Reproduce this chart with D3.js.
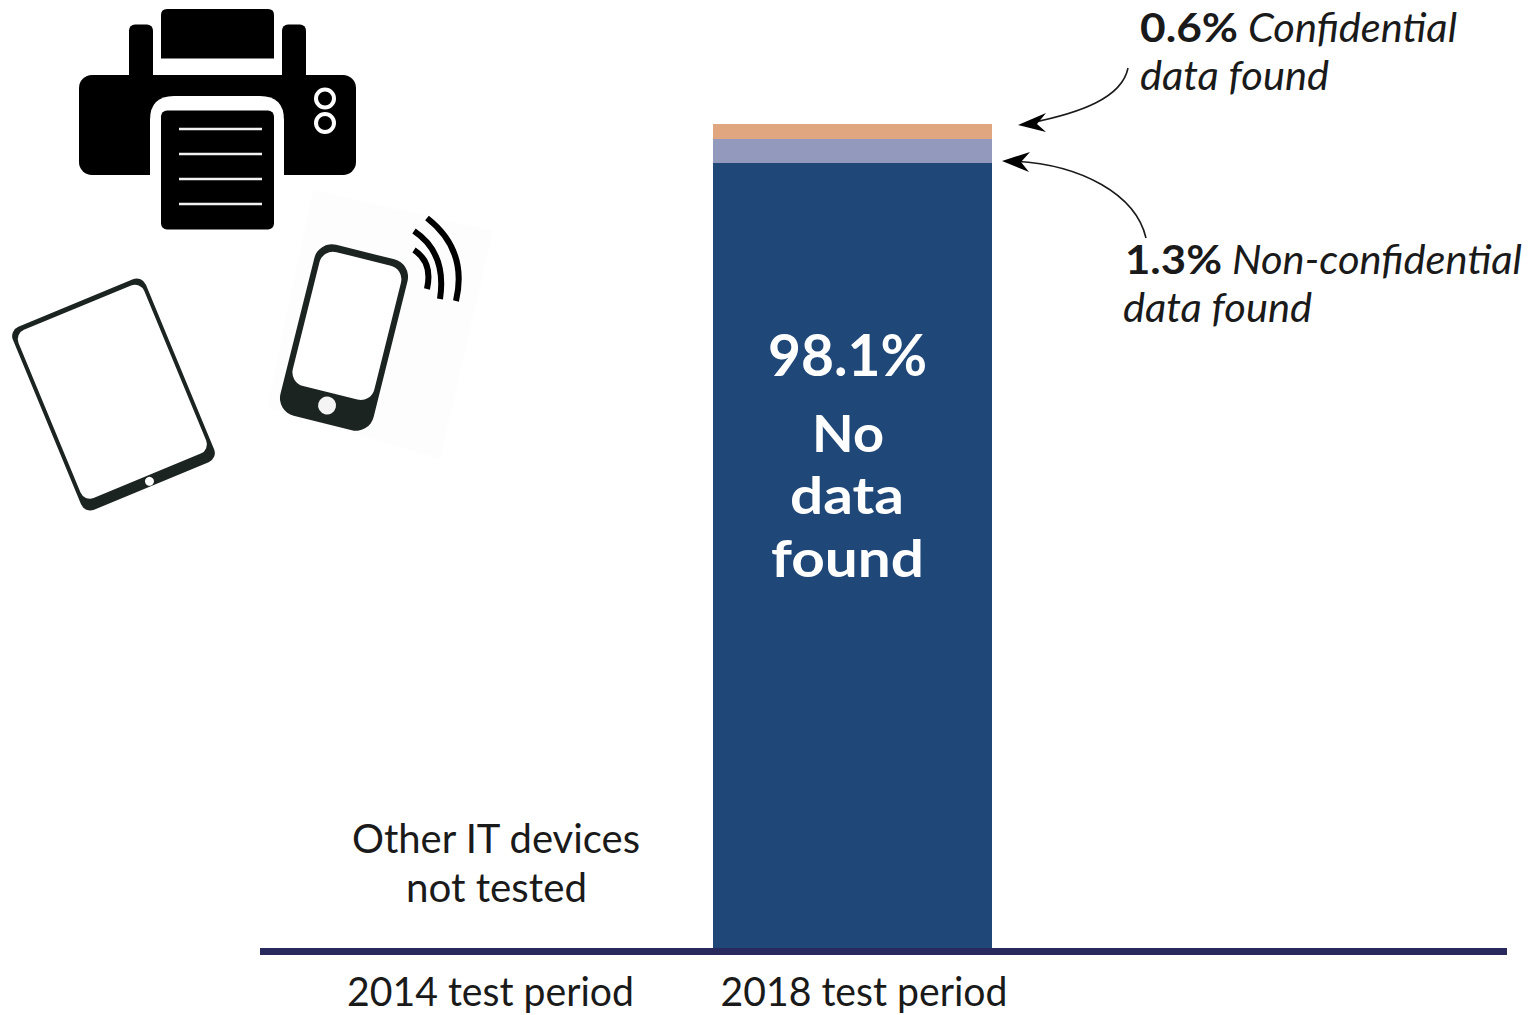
<!DOCTYPE html>
<html>
<head>
<meta charset="utf-8">
<title>Data found on other IT devices</title>
<script src="https://cdnjs.cloudflare.com/ajax/libs/d3/7.8.5/d3.min.js"></script>
<style>
  html, body { margin: 0; padding: 0; background: #fff; }
  svg { display: block; }
  text { font-family: Lato, "Open Sans", sans-serif; }
</style>
</head>
<body>
<svg id="chart" width="1529" height="1015"></svg>
<script>
// Test periods on the horizontal axis
const periods = ["2014 test period", "2018 test period"];

// Share of devices per outcome, in percent (2014: not tested)
const noData = [0, 98.1];
const nonConfidential = [0, 1.3];
const confidential = [0, 0.6];

const outcomeKeys = ["noData", "nonConfidential", "confidential"];
const outcomeColors = ["#1f4778", "#9399bd", "#e0a67f"];

const untestedLabel = ["Other IT devices", "not tested"];
const barLabel = ["98.1%", "No", "data", "found"];

const INK = "#1a1a1a";
const svg = d3.select("#chart");

// Band position of each test period
const x = d3.scaleBand().domain(periods).range([356.5, 992]).paddingInner(0.2174);

// The top of the axis is stretched so the two small shares stay legible
const y = d3.scaleLinear().domain([0, 98.1, 99.4, 100]).range([948, 163, 139, 124]);

const rows = periods.map((p, i) => ({
  period: p,
  noData: noData[i],
  nonConfidential: nonConfidential[i],
  confidential: confidential[i]
}));
const stacked = d3.stack().keys(outcomeKeys)(rows);

// Places one run of text and fits it to a given horizontal extent
function fitted(parent, str, left, width, baseline, size, opts = {}) {
  return parent.append("text")
    .attr("x", left)
    .attr("y", baseline)
    .attr("font-size", size)
    .attr("font-weight", opts.weight || 400)
    .attr("font-style", opts.italic ? "italic" : "normal")
    .attr("fill", opts.fill || INK)
    .attr("textLength", width)
    .attr("lengthAdjust", "spacingAndGlyphs")
    .text(str);
}

// Stacked segments
svg.append("g").selectAll("g")
  .data(stacked)
  .join("g")
  .attr("fill", (d, i) => outcomeColors[i])
  .selectAll("rect")
  .data(d => d.filter(s => s[1] > s[0]))
  .join("rect")
  .attr("x", s => x(s.data.period))
  .attr("width", x.bandwidth())
  .attr("y", s => y(s[1]))
  .attr("height", s => y(s[0]) - y(s[1]));

// Baseline
svg.append("line")
  .attr("x1", 260).attr("x2", 1507)
  .attr("y1", y(0) + 3.5).attr("y2", y(0) + 3.5)
  .attr("stroke", "#28295c")
  .attr("stroke-width", 7);

// Period labels, set through the band axis
const axis = svg.append("g")
  .attr("transform", `translate(0,${y(0)})`)
  .call(d3.axisBottom(x).tickSize(0));
axis.select(".domain").remove();
const tickOffsets = [-5.5, 11.5];
axis.selectAll("text")
  .attr("font-family", null)
  .attr("font-size", 40)
  .attr("fill", INK)
  .attr("dy", null)
  .attr("y", 58)
  .attr("x", (d, i) => tickOffsets[i])
  .attr("textLength", 287)
  .attr("lengthAdjust", "spacingAndGlyphs");

// Text inside the bar
const inBar = svg.append("g");
fitted(inBar, barLabel[0], 768, 159, 376, 58, { weight: 700, fill: "#fff" });
fitted(inBar, barLabel[1], 812, 72, 452, 51, { weight: 700, fill: "#fff" });
fitted(inBar, barLabel[2], 790, 114, 514, 51, { weight: 700, fill: "#fff" });
fitted(inBar, barLabel[3], 771, 153, 577, 51, { weight: 700, fill: "#fff" });

// Note over the untested period
const note = svg.append("g");
fitted(note, untestedLabel[0], 352, 288, 853, 40);
fitted(note, untestedLabel[1], 406, 181, 902, 40);

// Callouts
const callouts = svg.append("g");
fitted(callouts, "0.6%", 1140, 98, 42, 40, { weight: 700 });
fitted(callouts, "Confidential", 1248, 209, 42, 40, { italic: true });
fitted(callouts, "data found", 1140, 189, 90, 40, { italic: true });
fitted(callouts, "1.3%", 1125, 97, 274, 40, { weight: 700 });
fitted(callouts, "Non-confidential", 1232, 290, 274, 40, { italic: true });
fitted(callouts, "data found", 1123, 189, 322, 40, { italic: true });

// Callout arrows
const arrows = svg.append("g");
arrows.append("path")
  .attr("d", "M1128,68 C1122,98 1080,113 1030,123")
  .attr("fill", "none").attr("stroke", INK).attr("stroke-width", 1.6);
arrows.append("path")
  .attr("d", "M1018,125 L1046,113 L1037,124 L1046,132 Z")
  .attr("fill", "#000");
arrows.append("path")
  .attr("d", "M1146,238 C1136,195 1082,164 1012,161")
  .attr("fill", "none").attr("stroke", INK).attr("stroke-width", 1.6);
arrows.append("path")
  .attr("d", "M1002,161 L1030,152 L1021,162 L1029,172 Z")
  .attr("fill", "#000");

// Printer pictogram
const printer = svg.append("g");
printer.append("path").attr("d", "M161,58.5 V15 Q161,9 167,9 H268 Q274,9 274,15 V58.5 Z");
printer.append("rect").attr("x", 129).attr("y", 24.5).attr("width", 24).attr("height", 60).attr("rx", 6);
printer.append("rect").attr("x", 282).attr("y", 24.5).attr("width", 24).attr("height", 60).attr("rx", 6);
printer.append("rect").attr("x", 79).attr("y", 75).attr("width", 277).attr("height", 100).attr("rx", 13);
printer.append("path")
  .attr("d", "M150,176 V120 Q150,96 174,96 H260 Q284,96 284,120 V176 Z")
  .attr("fill", "#fff");
printer.append("rect").attr("x", 161).attr("y", 110.5).attr("width", 113).attr("height", 119).attr("rx", 6);
[129, 154, 179, 204].forEach(ly => {
  printer.append("line").attr("x1", 179).attr("x2", 262).attr("y1", ly).attr("y2", ly)
    .attr("stroke", "#f2f2f2").attr("stroke-width", 2.4);
});
[98.5, 123].forEach(cy => {
  printer.append("circle").attr("cx", 325).attr("cy", cy).attr("r", 9)
    .attr("fill", "none").attr("stroke", "#fff").attr("stroke-width", 4);
});

// Phone pictogram on its faint backing
svg.append("path").attr("d", "M313,190 L493,231 L440,459 L267,408 Z").attr("fill", "#fdfdfd");
const phone = svg.append("g").attr("transform", "translate(344,337.5) rotate(14)");
phone.append("rect").attr("x", -48).attr("y", -88).attr("width", 96).attr("height", 176).attr("rx", 18).attr("fill", "#1c2422");
phone.append("rect").attr("x", -42).attr("y", -81).attr("width", 84).attr("height", 138).attr("rx", 14).attr("fill", "#fff");
phone.append("circle").attr("cx", 0).attr("cy", 70).attr("r", 9).attr("fill", "#f4f4f4");
[
  "M414,250 Q433,262 427,289",
  "M414,231 Q447,253 440,299",
  "M427,218 Q468,250 456,301"
].forEach(d => {
  svg.append("path").attr("d", d).attr("fill", "none").attr("stroke", "#000").attr("stroke-width", 6);
});

// Tablet pictogram
const tablet = svg.append("g").attr("transform", "translate(113.5,394.5) rotate(-22.5)");
tablet.append("rect").attr("x", -72).attr("y", -99).attr("width", 144).attr("height", 198).attr("rx", 10).attr("fill", "#1c2422");
tablet.append("rect").attr("x", -68).attr("y", -94).attr("width", 136).attr("height", 182).attr("rx", 10).attr("fill", "#fff");
tablet.append("circle").attr("cx", 0).attr("cy", 94).attr("r", 4.5).attr("fill", "#fff");
</script>
</body>
</html>
